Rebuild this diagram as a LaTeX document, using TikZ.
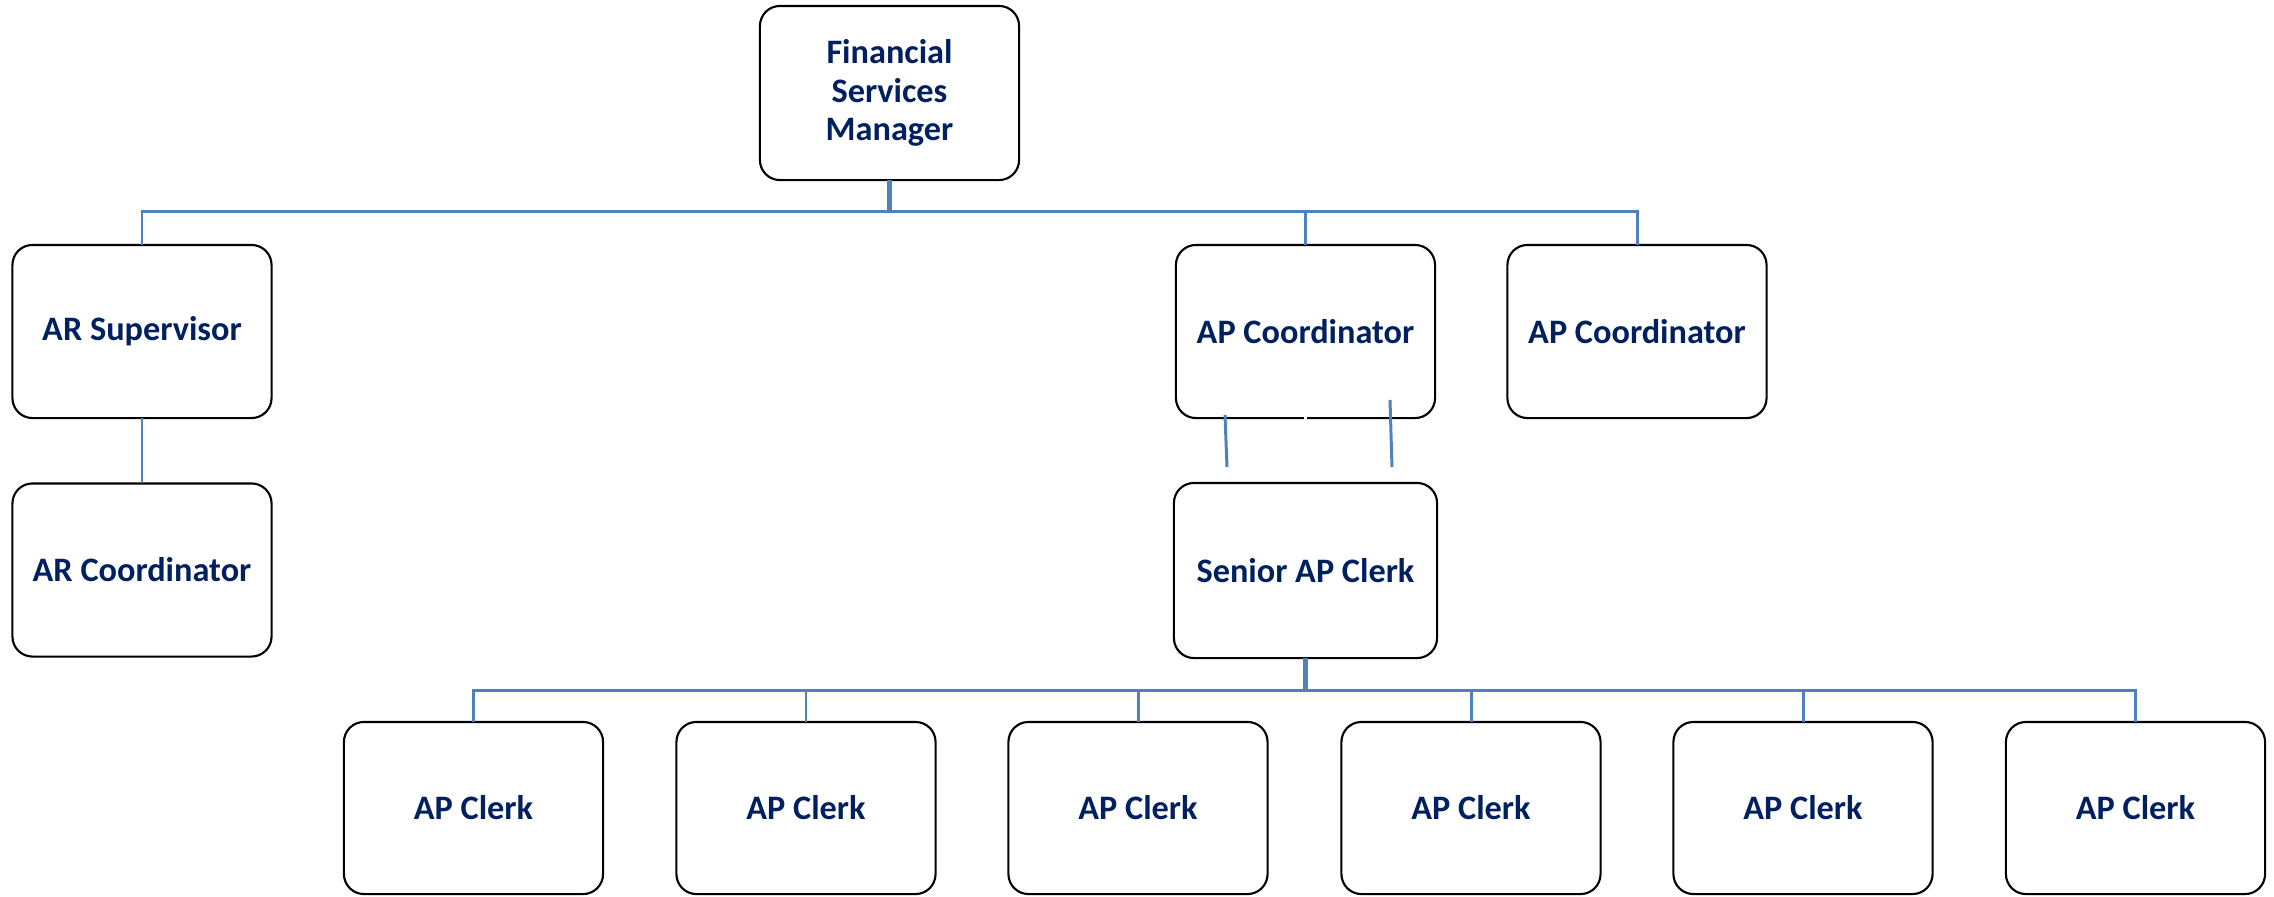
\documentclass[tikz,border=0pt]{standalone}
\usepackage{fontspec}
\setmainfont{Carlito}
\definecolor{navy}{HTML}{002060}
\definecolor{linkblue}{HTML}{4F81BD}
\begin{document}
\begin{tikzpicture}[x=0.01cm,y=-0.01cm,
  box/.style={draw=black,line width=0.6pt,rounded corners=0.2cm,fill=white,
    inner sep=0pt,outer sep=0pt,minimum width=2.59cm,minimum height=1.73cm,
    align=center,text=navy,font=\fontsize{9.75}{10.9}\selectfont\bfseries},
  link/.style={draw=linkblue,line width=0.85pt},
  stub/.style={draw=linkblue,line width=1.2pt}]
\useasboundingbox (0,0) rectangle (2274,896);
% boxes
\node[box,minimum height=1.74cm] (fsm) at (889.5,93) {Financial\\Services\\Manager};
\node[box] (ars) at (142,331.5) {AR Supervisor};
\node[box] (arc) at (142,570) {AR Coordinator};
\node[box] (apc1) at (1305.5,331.5) {AP Coordinator};
\node[box] (apc2) at (1637,331.5) {AP Coordinator};
\node[box,minimum width=2.63cm,minimum height=1.75cm] (sap) at (1305.5,570.5) {Senior AP Clerk};
\foreach \i/\cx in {1/473.5,2/806,3/1138,4/1471,5/1803,6/2135.5}{
  \node[box,minimum height=1.72cm] (clk\i) at (\cx,808) {AP Clerk};
}
% top bus
\coordinate (bus1) at (0,211);
\draw[stub] (fsm.south) -- (fsm.south |- bus1);
\draw[link] (ars.north) -- (ars.north |- bus1) -- (apc2.north |- bus1) -- (apc2.north);
\draw[link] (apc1.north |- bus1) -- (apc1.north);
\draw[link] (ars.south) -- (arc.north);
% odd links between AP Coordinator and Senior AP Clerk
\coordinate (l1a) at (1225,415);
\coordinate (l1b) at (1227,467);
\coordinate (l2a) at (1390,400);
\coordinate (l2b) at (1392,467);
\draw[link] (l1a) -- (l1b);
\draw[link] (l2a) -- (l2b);
\draw[white,line width=0.6pt] (apc1.south) ++(0,-2) -- ([yshift=0.03cm]sap.north);
% bottom bus
\coordinate (bus2) at (0,690);
\draw[stub] (sap.south) -- (sap.south |- bus2);
\draw[link] (clk1.north) -- (clk1.north |- bus2) -- (clk6.north |- bus2) -- (clk6.north);
\foreach \i in {2,3,4,5}{
  \draw[link] (clk\i.north |- bus2) -- (clk\i.north);
}
\end{tikzpicture}
\end{document}
